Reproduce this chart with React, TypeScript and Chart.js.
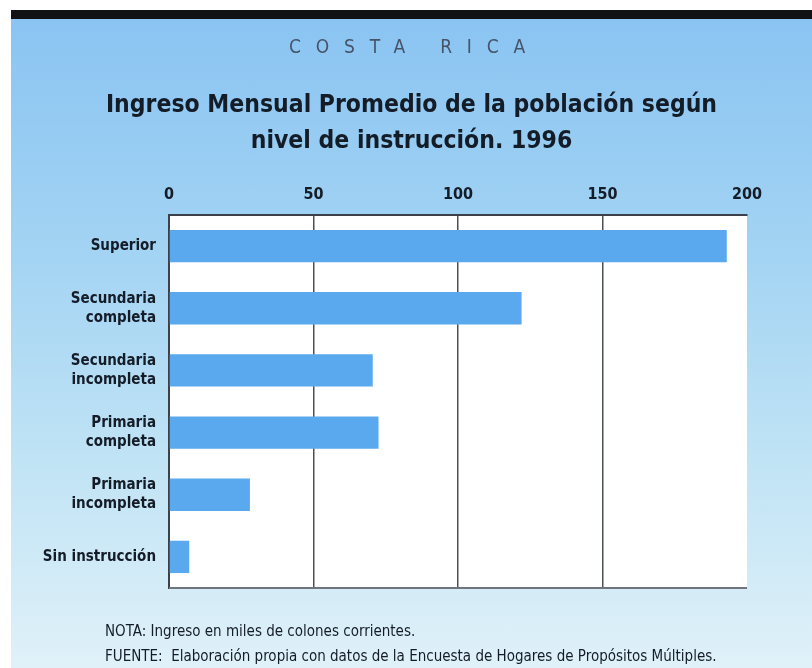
import React, { useEffect, useRef } from "react";
import { Chart, registerables } from "chart.js";

Chart.register(...registerables);

const categories: string[][] = [
  ["Superior"],
  ["Secundaria", "completa"],
  ["Secundaria", "incompleta"],
  ["Primaria", "completa"],
  ["Primaria", "incompleta"],
  ["Sin instrucción"],
];
const values: number[] = [193, 122, 70.5, 72.5, 28, 7];
const xMin = 0;
const xMax = 200;
const xStep = 50;

const subtitleText = "COSTA RICA";
const titleLines = ["Ingreso Mensual Promedio de la población según", "nivel de instrucción. 1996"];
const noteText = "NOTA: Ingreso en miles de colones corrientes.";
const sourceText = "FUENTE:  Elaboración propia con datos de la Encuesta de Hogares de Propósitos Múltiples.";

const FONT = "'DejaVu Sans Condensed', 'DejaVu Sans', sans-serif";
const INK = "#141c28";

const plotFrame = {
  id: "plotFrame",
  beforeDraw(chart: any) {
    const { ctx, chartArea } = chart;
    ctx.save();
    ctx.fillStyle = "#ffffff";
    ctx.fillRect(chartArea.left, chartArea.top, chartArea.right - chartArea.left, chartArea.bottom - chartArea.top);
    ctx.restore();
  },
  afterDraw(chart: any) {
    const { ctx, chartArea } = chart;
    ctx.save();
    ctx.strokeStyle = "#6f757c";
    ctx.lineWidth = 2;
    ctx.beginPath();
    ctx.moveTo(chartArea.left, chartArea.bottom);
    ctx.lineTo(chartArea.right, chartArea.bottom);
    ctx.stroke();
    ctx.restore();
  },
};

export default function App() {
  const ref = useRef<HTMLCanvasElement | null>(null);

  useEffect(() => {
    if (!ref.current) return;
    const chart = new Chart(ref.current, {
      type: "bar",
      data: {
        labels: categories,
        datasets: [
          {
            data: values,
            backgroundColor: "#5aa9ee",
            borderWidth: 0,
            barPercentage: 0.52,
            categoryPercentage: 1,
          },
        ],
      },
      options: {
        indexAxis: "y",
        animation: false,
        responsive: false,
        maintainAspectRatio: false,
        devicePixelRatio: 1,
        layout: { padding: { left: 0, top: 0, right: 65, bottom: 80 } },
        plugins: {
          legend: { display: false },
          tooltip: { enabled: false },
          title: { display: false },
        },
        scales: {
          x: {
            position: "top",
            min: xMin,
            max: xMax,
            ticks: {
              stepSize: xStep,
              color: INK,
              padding: 11,
              font: { family: FONT, size: 16, weight: "bold" },
            },
            grid: {
              drawTicks: false,
              lineWidth: 1.5,
              color: (c: any) =>
                c.tick && (c.tick.value === xMin || c.tick.value === xMax) ? "rgba(0,0,0,0)" : "#4b5058",
            },
            border: { display: true, color: "#3c4149", width: 2 },
            afterFit: (s: any) => {
              s.height = 215;
            },
          },
          y: {
            ticks: {
              color: INK,
              padding: 13,
              font: { family: FONT, size: 15, weight: "bold", lineHeight: 1.25 },
            },
            grid: { display: false, drawTicks: false },
            border: { display: true, color: "#3c4149", width: 2 },
            afterFit: (s: any) => {
              s.width = 169;
            },
          },
        },
      },
      plugins: [plotFrame],
    });
    return () => chart.destroy();
  }, []);

  return (
    <div
      style={{
        position: "absolute",
        left: 0,
        top: 0,
        width: 812,
        height: 668,
        overflow: "hidden",
        background: "#ffffff",
      }}
    >
      <div
        style={{
          position: "absolute",
          left: 11,
          top: 18,
          width: 801,
          height: 650,
          background: "linear-gradient(180deg, #8ac4f2 0%, #a2d3f3 35%, #c2e4f5 70%, #e0f1f9 100%)",
        }}
      />
      <div style={{ position: "absolute", left: 11, top: 10, width: 801, height: 9, background: "#101216" }} />
      <canvas ref={ref} width={812} height={668} style={{ position: "absolute", left: 0, top: 0 }} />
      <div
        style={{
          position: "absolute",
          left: 11,
          width: 801,
          top: 35,
          textAlign: "center",
          fontFamily: FONT,
          fontSize: 19,
          letterSpacing: 14.8,
          color: "#46546a",
          fontWeight: 300,
          lineHeight: "22px",
          paddingLeft: 6,
          boxSizing: "border-box",
        }}
      >
        {subtitleText}
      </div>
      <div
        style={{
          position: "absolute",
          left: 11,
          width: 801,
          top: 86,
          textAlign: "center",
          fontFamily: FONT,
          fontSize: 24.5,
          fontWeight: "bold",
          color: INK,
          lineHeight: "36px",
        }}
      >
        {titleLines.map((t, i) => (
          <div key={i}>{t}</div>
        ))}
      </div>
      <div
        style={{
          position: "absolute",
          left: 105,
          top: 619,
          fontFamily: FONT,
          fontSize: 15,
          color: INK,
          lineHeight: "25px",
          whiteSpace: "pre",
          letterSpacing: 0,
        }}
      >
        <div>{noteText}</div>
        <div>{sourceText}</div>
      </div>
    </div>
  );
}
